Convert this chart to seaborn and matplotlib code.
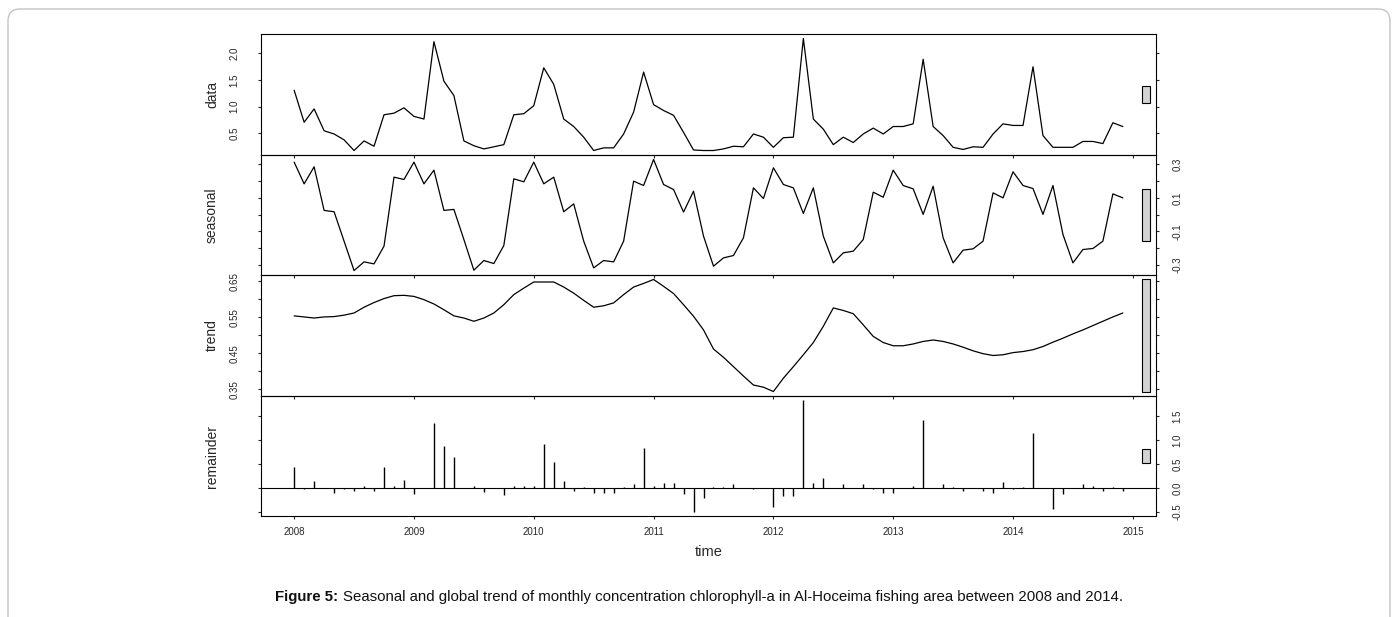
import numpy as np
import pandas as pd
import matplotlib
matplotlib.use("Agg")
import matplotlib.pyplot as plt
import seaborn as sns
from matplotlib.patches import Rectangle, FancyBboxPatch
from matplotlib.transforms import IdentityTransform

# ---------------- data ----------------
start_year = 2008

data_vals = [
    1.31, 0.71, 0.96, 0.55, 0.49, 0.38, 0.18, 0.36, 0.26, 0.85, 0.88, 0.98,
    0.82, 0.77, 2.22, 1.48, 1.21, 0.36, 0.27, 0.21, 0.25, 0.29, 0.85, 0.87,
    1.02, 1.73, 1.42, 0.77, 0.63, 0.43, 0.18, 0.23, 0.23, 0.49, 0.90, 1.65,
    1.04, 0.93, 0.84, 0.52, 0.19, 0.18, 0.18, 0.21, 0.26, 0.25, 0.49, 0.43,
    0.24, 0.42, 0.43, 2.28, 0.77, 0.58, 0.29, 0.43, 0.33, 0.49, 0.60, 0.49,
    0.63, 0.63, 0.68, 1.89, 0.63, 0.46, 0.24, 0.20, 0.25, 0.24, 0.49, 0.68,
    0.65, 0.65, 1.75, 0.46, 0.24, 0.24, 0.24, 0.35, 0.35, 0.31, 0.70, 0.63,
]

seasonal_vals = [
    0.314, 0.184, 0.286, 0.025, 0.017, -0.159, -0.335, -0.283, -0.295, -0.189, 0.224, 0.210,
    0.314, 0.184, 0.266, 0.025, 0.031, -0.149, -0.333, -0.275, -0.293, -0.185, 0.214, 0.196,
    0.314, 0.184, 0.224, 0.017, 0.064, -0.159, -0.319, -0.275, -0.283, -0.159, 0.200, 0.174,
    0.330, 0.180, 0.150, 0.015, 0.140, -0.129, -0.309, -0.259, -0.245, -0.139, 0.160, 0.096,
    0.280, 0.180, 0.160, 0.007, 0.160, -0.129, -0.289, -0.229, -0.219, -0.149, 0.134, 0.104,
    0.266, 0.174, 0.154, 0.001, 0.170, -0.139, -0.289, -0.213, -0.205, -0.159, 0.130, 0.100,
    0.256, 0.174, 0.156, 0.001, 0.174, -0.119, -0.289, -0.209, -0.203, -0.159, 0.124, 0.100,
]

trend_vals = [
    0.554, 0.551, 0.548, 0.551, 0.552, 0.556, 0.562, 0.578, 0.591, 0.602, 0.610, 0.611,
    0.608, 0.599, 0.587, 0.571, 0.554, 0.548, 0.539, 0.548, 0.562, 0.585, 0.613, 0.631,
    0.648, 0.648, 0.648, 0.634, 0.617, 0.597, 0.578, 0.582, 0.590, 0.613, 0.634, 0.644,
    0.655, 0.636, 0.616, 0.585, 0.553, 0.515, 0.462, 0.439, 0.413, 0.387, 0.362, 0.356,
    0.344, 0.381, 0.413, 0.446, 0.480, 0.525, 0.576, 0.569, 0.560, 0.529, 0.497, 0.480,
    0.471, 0.471, 0.476, 0.483, 0.487, 0.483, 0.476, 0.467, 0.457, 0.449, 0.444, 0.446,
    0.452, 0.455, 0.460, 0.469, 0.481, 0.492, 0.504, 0.515, 0.527, 0.539, 0.551, 0.562,
]

remainder_vals = [
    0.44, -0.03, 0.14, -0.01, -0.11, -0.03, -0.06, 0.05, -0.06, 0.44, 0.05, 0.16,
    -0.13, 0.00, 1.36, 0.88, 0.64, -0.01, 0.05, -0.08, -0.01, -0.14, 0.04, 0.05,
    0.05, 0.92, 0.53, 0.14, -0.06, 0.03, -0.10, -0.10, -0.11, 0.03, 0.08, 0.83,
    0.05, 0.11, 0.10, -0.13, -0.49, -0.20, 0.02, 0.02, 0.09, 0.00, -0.03, -0.01,
    -0.40, -0.16, -0.16, 1.82, 0.11, 0.20, -0.01, 0.09, -0.01, 0.09, -0.03, -0.11,
    -0.10, 0.00, 0.05, 1.41, -0.01, 0.09, 0.03, -0.06, 0.00, -0.06, -0.10, 0.13,
    -0.03, 0.02, 1.15, 0.00, -0.44, -0.13, 0.00, 0.08, 0.05, -0.06, 0.03, -0.06,
]

panel_names = ["data", "seasonal", "trend", "remainder"]

x_ticks = [2008, 2009, 2010, 2011, 2012, 2013, 2014, 2015]
x_tick_labels = ["2008", "2009", "2010", "2011", "2012", "2013", "2014", "2015"]

data_ticks = [0.5, 1.0, 1.5, 2.0]
data_tick_labels = ["0.5", "1.0", "1.5", "2.0"]
seasonal_ticks = [-0.3, -0.2, -0.1, 0.0, 0.1, 0.2, 0.3]
seasonal_tick_labels = ["-0.3", "", "-0.1", "", "0.1", "", "0.3"]
trend_ticks = [0.35, 0.40, 0.45, 0.50, 0.55, 0.60, 0.65]
trend_tick_labels = ["0.35", "", "0.45", "", "0.55", "", "0.65"]
remainder_ticks = [-0.5, 0.0, 0.5, 1.0, 1.5]
remainder_tick_labels = ["-0.5", "0.0", "0.5", "1.0", "1.5"]

x_label = "time"
caption_bold = "Figure 5:"
caption_rest = "Seasonal and global trend of monthly concentration chlorophyll-a in Al-Hoceima fishing area between 2008 and 2014."

# ---------------- style ----------------
sns.set_style("ticks")
plt.rcParams["font.family"] = ["Liberation Sans", "DejaVu Sans"]

W, H = 1398, 617
fig = plt.figure(figsize=(W / 100, H / 100), dpi=100)
fig.patch.set_facecolor("white")

time = start_year + np.arange(len(data_vals)) / 12.0
df = pd.DataFrame({
    "time": time,
    "data": data_vals,
    "seasonal": seasonal_vals,
    "trend": trend_vals,
    "remainder": remainder_vals,
})

ticks_map = {
    "data": (data_ticks, data_tick_labels),
    "seasonal": (seasonal_ticks, seasonal_tick_labels),
    "trend": (trend_ticks, trend_tick_labels),
    "remainder": (remainder_ticks, remainder_tick_labels),
}


def r_range(v):
    lo, hi = float(np.min(v)), float(np.max(v))
    pad = 0.04 * (hi - lo)
    return lo - pad, hi + pad


xlim = r_range(df["time"])
bar_len = min(df[n].max() - df[n].min() for n in panel_names)

left_px, right_px = 261, 1156
edges_px = [34, 155, 275, 396, 516]
L = left_px / W
Wd = (right_px - left_px) / W

axes = []
for k, name in enumerate(panel_names):
    top = 1 - edges_px[k] / H
    bottom = 1 - edges_px[k + 1] / H
    ax = fig.add_axes([L, bottom, Wd, top - bottom])
    ax.set_facecolor("none")
    axes.append(ax)

    if name == "remainder":
        ax.axhline(0, color="black", lw=0.8, zorder=1)
        ax.vlines(df["time"], 0, df[name], color="black", lw=1.0, zorder=2)
    else:
        sns.lineplot(data=df, x="time", y=name, ax=ax, color="black",
                     lw=0.9, estimator=None, sort=False)

    ylim = r_range(df[name])
    ax.set_xlim(*xlim)
    ax.set_ylim(*ylim)

    # range bar (as in R's plot.stl)
    dx = (xlim[1] - xlim[0]) / 64.0
    yc = (df[name].min() + df[name].max()) / 2.0
    ax.add_patch(Rectangle((xlim[1] - dx, yc - bar_len / 2), 0.6 * dx, bar_len,
                           facecolor="#d3d3d3", edgecolor="black", lw=0.8,
                           zorder=3, clip_on=False))

    for sp in ax.spines.values():
        sp.set_visible(True)
        sp.set_linewidth(0.8)
        sp.set_color("black")

    yt, ytl = ticks_map[name]
    ax.set_yticks(yt)
    ax.set_yticklabels(ytl)
    label_left = (k % 2 == 0)
    ax.tick_params(axis="y", which="both", left=True, right=True,
                   direction="out", length=2.5, width=0.8,
                   labelleft=label_left, labelright=not label_left,
                   labelsize=7, pad=(13 if label_left else 9.5))
    for lab in ax.get_yticklabels():
        lab.set_rotation(90)
        lab.set_va("center")

    ax.set_xticks(x_ticks)
    ax.set_xticklabels(x_tick_labels)
    last = (k == len(panel_names) - 1)
    ax.tick_params(axis="x", which="both", bottom=True, top=False,
                   direction="out", length=2.5, width=0.8,
                   labelbottom=last, labelsize=7, pad=5.5)
    ax.set_xlabel("")
    ax.set_ylabel(name, fontsize=10, rotation=90)
    ax.yaxis.set_label_coords((212 - left_px) / (right_px - left_px), 0.5)
    ax.yaxis.label.set_va("center")
    ax.yaxis.label.set_ha("center")

# x label
fig.text((left_px + right_px) / 2 / W, 1 - 552 / H, x_label,
         ha="center", va="center", fontsize=10.5)

# caption with bold prefix
renderer = fig.canvas.get_renderer()
cap_y = 1 - 597 / H
fs_cap = 10.85
t1 = fig.text(0, cap_y, caption_bold, fontsize=fs_cap, fontweight="bold",
              ha="left", va="center", color="#111111")
t2 = fig.text(0, cap_y, caption_rest, fontsize=fs_cap, ha="left", va="center",
              color="#111111")
w1 = t1.get_window_extent(renderer).width
w2 = t2.get_window_extent(renderer).width
gap = fs_cap * 0.28 * 100 / 72
x0 = (W - (w1 + gap + w2)) / 2
t1.set_x(x0 / W)
t2.set_x((x0 + w1 + gap) / W)

# outer rounded frame
frame = FancyBboxPatch((8, -30), 1390 - 8, H - 9 + 30,
                       boxstyle="round,pad=0,rounding_size=12",
                       transform=IdentityTransform(), facecolor="none",
                       edgecolor="#c4c4c4", lw=1.0, clip_on=False)
fig.patches.append(frame)

fig.savefig("out.png", dpi=100, facecolor="white")
